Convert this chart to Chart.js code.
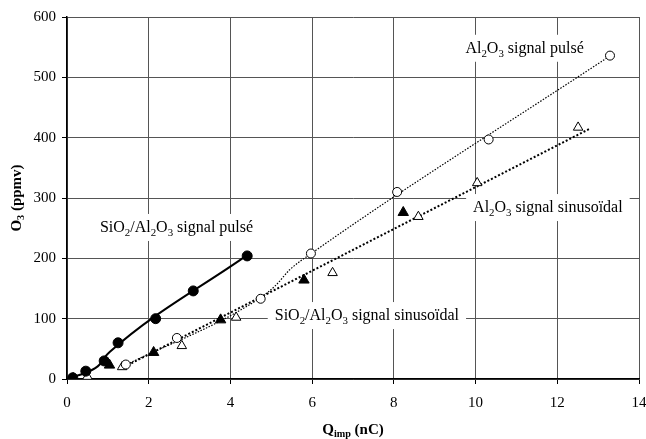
<!DOCTYPE html>
<html>
<head>
<meta charset="utf-8">
<script src="https://cdn.jsdelivr.net/npm/chart.js@4.4.1/dist/chart.umd.min.js"></script>
<style>
  html, body { margin: 0; padding: 0; background: #fff; }
  #wrap { width: 646px; height: 439px; position: relative; }
</style>
</head>
<body>
<div id="wrap"><canvas id="chart"></canvas></div>
<script>
// ── DATA ──
const xTicks = [0, 2, 4, 6, 8, 10, 12, 14];
const yTicks = [0, 100, 200, 300, 400, 500, 600];

// SiO2/Al2O3 signal pulsé : filled circles + solid curve
const siPulsePts   = [[0.14, 2], [0.46, 13], [0.91, 30], [1.25, 60], [2.17, 100], [3.09, 146], [4.41, 204]];
const siPulseCurve = [[0.12, 3], [0.48, 11], [0.8, 24], [0.9, 34], [1.05, 45], [4.4, 205]];

// SiO2/Al2O3 signal sinusoïdal : filled triangles
const siSinPts = [[0.15, 1], [1.04, 23], [2.12, 44], [3.76, 98], [5.8, 164], [8.23, 276]];

// Al2O3 signal pulsé : open circles + thin dotted curve
const alPulsePts   = [[1.44, 24], [2.69, 68], [4.74, 133], [5.97, 208], [8.08, 310], [10.32, 397], [13.29, 536]];
const alPulseCurve = [[1.4, 22], [4.7, 133], [5.12, 156], [5.45, 181], [6.0, 209], [13.3, 536]];

// Al2O3 signal sinusoïdal : open triangles + thick dotted trend
const alSinPts   = [[0.5, 4], [1.35, 20], [2.81, 55], [4.14, 102], [6.5, 176], [8.6, 269], [10.04, 325], [12.51, 417]];
const alSinTrend = [[1.4, 20], [12.8, 415]];

// curve labels, anchored in data units
const labels = [
  { at: [11.2, 549], parts: [['Al'], ['2', 1], ['O'], ['3', 1], [' signal pulsé']] },
  { at: [11.77, 285], parts: [['Al'], ['2', 1], ['O'], ['3', 1], [' signal sinusoïdal']] },
  { at: [2.68, 252], parts: [['SiO'], ['2', 1], ['/Al'], ['2', 1], ['O'], ['3', 1], [' signal pulsé']] },
  { at: [7.34, 106], parts: [['SiO'], ['2', 1], ['/Al'], ['2', 1], ['O'], ['3', 1], [' signal sinusoïdal']] }
];

const FONT = "'Liberation Serif', 'Times New Roman', serif";
const toXY = arr => arr.map(p => ({ x: p[0], y: p[1] }));

// ── RICH TEXT HELPER (subscripts) ──
function richWidth(ctx, parts, size, bold) {
  let w = 0;
  parts.forEach(([t, sub]) => {
    ctx.font = (bold ? 'bold ' : '') + (sub ? size * 0.68 : size) + 'px ' + FONT;
    w += ctx.measureText(t).width;
  });
  return w;
}
function drawRich(ctx, parts, cx, cy, size, bold) {
  const w = richWidth(ctx, parts, size, bold);
  let x = cx - w / 2;
  const base = cy + size * 0.33;
  ctx.textAlign = 'left';
  ctx.textBaseline = 'alphabetic';
  ctx.fillStyle = '#000';
  parts.forEach(([t, sub]) => {
    ctx.font = (bold ? 'bold ' : '') + (sub ? size * 0.68 : size) + 'px ' + FONT;
    ctx.fillText(t, x, sub ? base + size * 0.22 : base);
    x += ctx.measureText(t).width;
  });
  return w;
}

const annotations = {
  id: 'annotations',
  beforeDatasetsDraw(chart) {
    const { ctx, scales: { x, y } } = chart;
    ctx.save();
    labels.forEach(l => {
      const cx = x.getPixelForValue(l.at[0]);
      const cy = y.getPixelForValue(l.at[1]);
      const w = richWidth(ctx, l.parts, 16, false);
      ctx.fillStyle = '#fff';
      ctx.fillRect(cx - w / 2 - 7, cy - 13, w + 14, 27);
      drawRich(ctx, l.parts, cx, cy, 16, false);
    });
    ctx.restore();
  },
  afterDraw(chart) {
    const { ctx, chartArea: a } = chart;
    ctx.save();
    // x title
    drawRich(ctx, [['Q'], ['imp', 1], [' (nC)']], (a.left + a.right) / 2, 429, 15, true);
    // y title (rotated)
    ctx.translate(16, (a.top + a.bottom) / 2);
    ctx.rotate(-Math.PI / 2);
    drawRich(ctx, [['O'], ['3', 1], [' (ppmv)']], 0, 0, 15, true);
    ctx.restore();
  }
};

// ── CHART ──
new Chart(document.getElementById('chart'), {
  type: 'scatter',
  data: {
    datasets: [
      {
        label: 'SiO2/Al2O3 pulsé',
        data: toXY(siPulsePts),
        pointStyle: 'circle', pointRadius: 5,
        backgroundColor: '#000', borderColor: '#000', borderWidth: 1
      },
      {
        label: 'SiO2/Al2O3 sinusoïdal',
        data: toXY(siSinPts),
        pointStyle: 'triangle', pointRadius: 6,
        backgroundColor: '#000', borderColor: '#000', borderWidth: 1
      },
      {
        label: 'Al2O3 pulsé',
        data: toXY(alPulsePts),
        pointStyle: 'circle', pointRadius: 4.5,
        backgroundColor: '#fff', borderColor: '#000', borderWidth: 1
      },
      {
        label: 'Al2O3 sinusoïdal',
        data: toXY(alSinPts),
        pointStyle: 'triangle', pointRadius: 5.5,
        backgroundColor: '#fff', borderColor: '#000', borderWidth: 1
      },
      {
        label: 'courbe SiO2/Al2O3 pulsé',
        data: toXY(siPulseCurve),
        showLine: true, pointRadius: 0,
        borderColor: '#000', borderWidth: 2,
        cubicInterpolationMode: 'monotone'
      },
      {
        label: 'courbe Al2O3 pulsé',
        data: toXY(alPulseCurve),
        showLine: true, pointRadius: 0,
        borderColor: '#000', borderWidth: 1.2, borderDash: [1.5, 1.5],
        cubicInterpolationMode: 'monotone'
      },
      {
        label: 'courbe Al2O3 sinusoïdal',
        data: toXY(alSinTrend),
        showLine: true, pointRadius: 0,
        borderColor: '#000', borderWidth: 2, borderDash: [2, 2]
      }
    ]
  },
  options: {
    responsive: true,
    maintainAspectRatio: false,
    animation: false,
    layout: { padding: { top: 17, right: 7, bottom: 0, left: 0 } },
    plugins: {
      legend: { display: false },
      tooltip: { enabled: false }
    },
    scales: {
      x: {
        type: 'linear', min: 0, max: 14,
        afterBuildTicks: s => { s.ticks = xTicks.map(v => ({ value: v })); },
        afterFit: s => { s.height = 60; s.paddingLeft = 0; s.paddingRight = 0; },
        grid: { color: '#555', lineWidth: 1, tickLength: 5, tickColor: '#000' },
        border: { color: '#000', width: 1.5 },
        ticks: { color: '#000', padding: 10, font: { family: FONT, size: 15 } }
      },
      y: {
        type: 'linear', min: 0, max: 600,
        afterBuildTicks: s => { s.ticks = yTicks.map(v => ({ value: v })); },
        afterFit: s => { s.width = 67; s.paddingTop = 0; s.paddingBottom = 0; },
        grid: { color: '#555', lineWidth: 1, tickLength: 5, tickColor: '#000' },
        border: { color: '#000', width: 1.5 },
        ticks: { color: '#000', padding: 6, font: { family: FONT, size: 15 } }
      }
    }
  },
  plugins: [annotations]
});
</script>
</body>
</html>
